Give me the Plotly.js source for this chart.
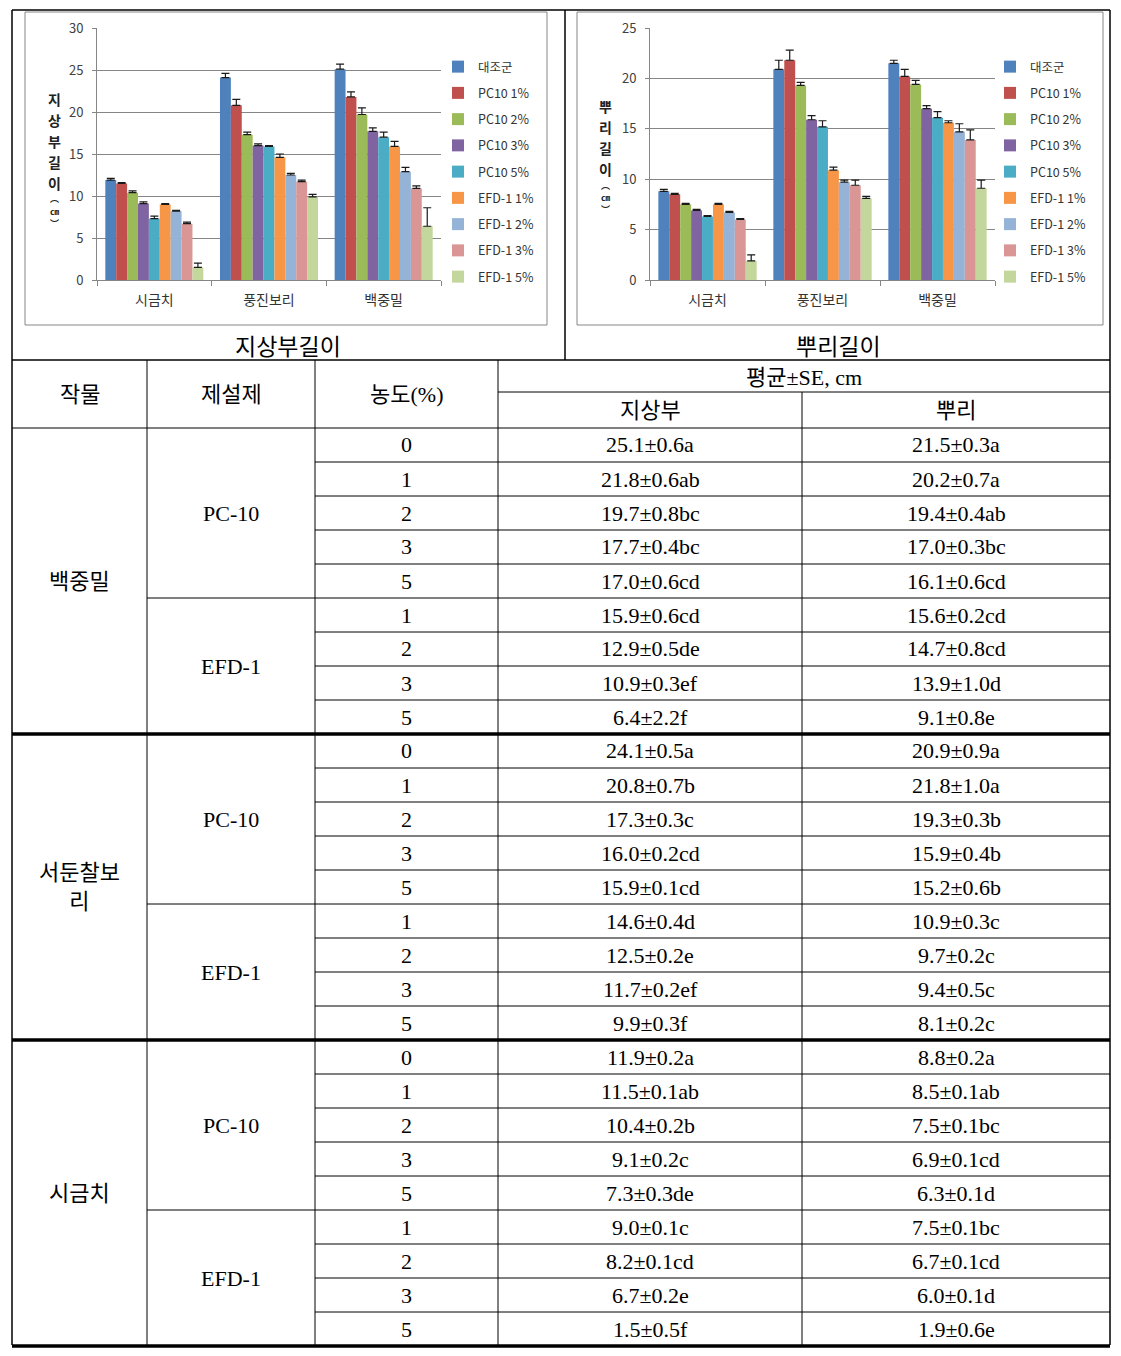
<!DOCTYPE html>
<html>
<head>
<meta charset="utf-8">
<script src="https://cdn.plot.ly/plotly-3.0.1.min.js"></script>
<style>html,body{margin:0;padding:0;background:#fff;}</style>
</head>
<body>
<div id="chart" style="width:1121px;height:1356px;"></div>
<script>
// ---------- DATA ----------
const seriesNames = ['대조군','PC10 1%','PC10 2%','PC10 3%','PC10 5%','EFD-1 1%','EFD-1 2%','EFD-1 3%','EFD-1 5%'];
const chartCategories = ['시금치','풍진보리','백중밀'];
const chartTitles = ['지상부길이','뿌리길이'];
const yTitles = ['지상부길이','뿌리길이'];

const tableCrops = ['백중밀','서둔찰보리','시금치'];
const tableAgents = ['PC-10','EFD-1'];
const concentrations = ['0','1','2','3','5','1','2','3','5'];
const headerTexts = ['작물','제설제','농도(%)','평균±SE, cm','지상부','뿌리'];

// 백중밀 (wheat)
const wheatShoot    = [25.1,21.8,19.7,17.7,17.0,15.9,12.9,10.9,6.4];
const wheatShootSE  = [0.6,0.6,0.8,0.4,0.6,0.6,0.5,0.3,2.2];
const wheatShootLet = ['a','ab','bc','bc','cd','cd','de','ef','f'];
const wheatRoot     = [21.5,20.2,19.4,17.0,16.1,15.6,14.7,13.9,9.1];
const wheatRootSE   = [0.3,0.7,0.4,0.3,0.6,0.2,0.8,1.0,0.8];
const wheatRootLet  = ['a','a','ab','bc','cd','cd','cd','d','e'];
// 서둔찰보리 / 풍진보리 (barley)
const barleyShoot    = [24.1,20.8,17.3,16.0,15.9,14.6,12.5,11.7,9.9];
const barleyShootSE  = [0.5,0.7,0.3,0.2,0.1,0.4,0.2,0.2,0.3];
const barleyShootLet = ['a','b','c','cd','cd','d','e','ef','f'];
const barleyRoot     = [20.9,21.8,19.3,15.9,15.2,10.9,9.7,9.4,8.1];
const barleyRootSE   = [0.9,1.0,0.3,0.4,0.6,0.3,0.2,0.5,0.2];
const barleyRootLet  = ['a','a','b','b','b','c','c','c','c'];
// 시금치 (spinach)
const spinachShoot    = [11.9,11.5,10.4,9.1,7.3,9.0,8.2,6.7,1.5];
const spinachShootSE  = [0.2,0.1,0.2,0.2,0.3,0.1,0.1,0.2,0.5];
const spinachShootLet = ['a','ab','b','c','de','c','cd','e','f'];
const spinachRoot     = [8.8,8.5,7.5,6.9,6.3,7.5,6.7,6.0,1.9];
const spinachRootSE   = [0.2,0.1,0.1,0.1,0.1,0.1,0.1,0.1,0.6];
const spinachRootLet  = ['a','ab','bc','cd','d','bc','cd','d','e'];

// ---------- STYLE ----------
const colors = ['#4F81BD','#C0504D','#9BBB59','#8064A2','#4BACC6','#F79646','#95B3D7','#D99694','#C3D69B'];
const W = 1121, H = 1356;
const X = p => p / W;
const Y = p => 1 - p / H;
const KR = 'Noto Sans CJK KR, Noto Sans, sans-serif';
const SER = 'Liberation Serif, Noto Sans CJK KR, serif';
const gridC = '#868686';

// chart series per crop (chart order: 시금치, 풍진보리, 백중밀)
const shootByCat = [spinachShoot, barleyShoot, wheatShoot];
const shootSEByCat = [spinachShootSE, barleyShootSE, wheatShootSE];
const rootByCat = [spinachRoot, barleyRoot, wheatRoot];
const rootSEByCat = [spinachRootSE, barleyRootSE, wheatRootSE];

const traces = [];
function addSeries(vals, ses, xa, ya, leg, grpPrefix) {
  seriesNames.forEach((name, k) => {
    traces.push({
      type: 'bar', name: name,
      x: chartCategories,
      y: vals.map(a => a[k]),
      error_y: {type: 'data', symmetric: false, array: ses.map(a => a[k]), arrayminus: ses.map(() => 0),
                color: '#1a1a1a', thickness: 1.2, width: 4},
      marker: {color: colors[k], line: {width: 0}},
      xaxis: xa, yaxis: ya, legend: leg, legendgroup: grpPrefix + k,
      hoverinfo: 'name+y'
    });
  });
}
addSeries(shootByCat, shootSEByCat, 'x', 'y', 'legend', 'a');
addSeries(rootByCat, rootSEByCat, 'x2', 'y2', 'legend2', 'b');

const tickFont = {family: KR, size: 13, color: '#404040'};
function xAxis(d0, d1, anchor) {
  return {domain: [X(d0), X(d1)], anchor: anchor, type: 'category', showline: true, linecolor: gridC, linewidth: 1,
    ticks: 'outside', tickson: 'boundaries', ticklen: 5, tickcolor: gridC, showgrid: false,
    tickfont: {family: KR, size: 14, color: '#333'}, ticklabelstandoff: 7, fixedrange: true};
}
function yAxis(anchor, maxv) {
  return {domain: [Y(280), Y(28)], anchor: anchor, range: [0, maxv], dtick: 5, showline: true, linecolor: gridC,
    gridcolor: gridC, gridwidth: 1, ticks: 'outside', ticklen: 4, tickcolor: gridC, zeroline: false,
    tickfont: tickFont, ticklabelstandoff: 6, fixedrange: true};
}

const shapes = [];
const annotations = [];
function line(x0, y0, x1, y1, w, c) {
  shapes.push({type: 'line', xref: 'paper', yref: 'paper', x0: X(x0), y0: Y(y0), x1: X(x1), y1: Y(y1),
    line: {color: c || '#000', width: w || 1}});
}
function text(t, x, y, size, fam, extra) {
  annotations.push(Object.assign({text: t, xref: 'paper', yref: 'paper', x: X(x), y: Y(y), showarrow: false,
    xanchor: 'center', yanchor: 'middle', font: {family: fam || SER, size: size || 22, color: '#000'}}, extra || {}));
}

// chart boxes
shapes.push({type: 'rect', xref: 'paper', yref: 'paper', x0: X(25), y0: Y(12), x1: X(547), y1: Y(325), line: {color: gridC, width: 1}});
shapes.push({type: 'rect', xref: 'paper', yref: 'paper', x0: X(577), y0: Y(12), x1: X(1103), y1: Y(325), line: {color: gridC, width: 1}});

// y titles (stacked vertical text)
function vTitle(str, x, y0) {
  let y = y0;
  Array.from(str).forEach(ch => { text(ch, x, y, 13, KR, {font: {family: KR, size: 14, color: '#222', weight: 'bold'}}); y += 21; });
  y -= 5;
  ['︵','㎝','︶'].forEach(ch => { text(ch, x, y, 9, KR, {font: {family: KR, size: 9, color: '#222', weight: 'bold'}}); y += 12; });
}
vTitle(yTitles[0], 54, 99);
vTitle(yTitles[1], 605, 106);

// captions
text(chartTitles[0], 288, 345, 23, KR);
text(chartTitles[1], 838, 345, 23, KR);

// outer frame & table lines
line(12, 10, 1110, 10, 1.5);
line(12, 10, 12, 1345, 1.5);
line(1110, 10, 1110, 1345, 1.5);
line(565, 10, 565, 360, 1.5);
line(12, 360, 1110, 360, 1.5);
const colX = [12, 147, 315, 498, 802, 1110];
line(colX[1], 360, colX[1], 1345);
line(colX[2], 360, colX[2], 1345);
line(colX[3], 360, colX[3], 1345);
line(colX[4], 392, colX[4], 1345);
line(colX[3], 392, colX[5], 392);
line(colX[0], 428, colX[5], 428);

// header text
text(headerTexts[0], (colX[0] + colX[1]) / 2, 394, 22);
text(headerTexts[1], (colX[1] + colX[2]) / 2, 394, 22);
text(headerTexts[2], (colX[2] + colX[3]) / 2, 394, 22);
text(headerTexts[3], (colX[3] + colX[5]) / 2, 377, 22);
text(headerTexts[4], (colX[3] + colX[4]) / 2, 410, 22);
text(headerTexts[5], (colX[4] + colX[5]) / 2, 410, 22);

const tableShoot = [[wheatShoot, wheatShootSE, wheatShootLet], [barleyShoot, barleyShootSE, barleyShootLet], [spinachShoot, spinachShootSE, spinachShootLet]];
const tableRoot = [[wheatRoot, wheatRootSE, wheatRootLet], [barleyRoot, barleyRootSE, barleyRootLet], [spinachRoot, spinachRootSE, spinachRootLet]];
const rowH = 34, tableTop = 428;
const nRows = concentrations.length;
const fmt = (m, s, l) => m.toFixed(1) + '±' + s.toFixed(1) + l;

tableCrops.forEach((crop, b) => {
  const top = tableTop + b * nRows * rowH;
  const bottom = top + nRows * rowH;
  const chars = Array.from(crop);
  const cropTxt = chars.length > 4 ? chars.slice(0, 4).join('') + '<br>' + chars.slice(4).join('') : crop;
  text(cropTxt, (colX[0] + colX[1]) / 2, (top + bottom) / 2, 22, SER);
  text(tableAgents[0], (colX[1] + colX[2]) / 2, top + 2.5 * rowH, 22);
  text(tableAgents[1], (colX[1] + colX[2]) / 2, top + 7 * rowH, 22);
  for (let r = 0; r < nRows; r++) {
    const cy = top + (r + 0.5) * rowH;
    text(concentrations[r], (colX[2] + colX[3]) / 2, cy, 22);
    const s = tableShoot[b], rt = tableRoot[b];
    text(fmt(s[0][r], s[1][r], s[2][r]), (colX[3] + colX[4]) / 2, cy, 22);
    text(fmt(rt[0][r], rt[1][r], rt[2][r]), (colX[4] + colX[5]) / 2, cy, 22);
    if (r > 0) {
      line(r === 5 ? colX[1] : colX[2], top + r * rowH, colX[5], top + r * rowH);
    }
  }
  line(colX[0], bottom, colX[5], bottom, 3.5);
});

const legendBase = {xanchor: 'left', yanchor: 'top', bgcolor: 'rgba(0,0,0,0)', borderwidth: 0,
  font: {family: KR, size: 12.5, color: '#333'}, tracegroupgap: 7, traceorder: 'grouped'};

const layout = {
  width: W, height: H, margin: {l: 0, r: 0, t: 0, b: 0}, autosize: false,
  paper_bgcolor: '#fff', plot_bgcolor: '#fff',
  barmode: 'group', bargap: 0.145, bargroupgap: 0,
  showlegend: true,
  legend: Object.assign({x: X(438), y: Y(52)}, legendBase),
  legend2: Object.assign({x: X(990), y: Y(52)}, legendBase),
  xaxis: xAxis(97, 441, 'y'),
  yaxis: yAxis('x', 30),
  xaxis2: xAxis(650, 995, 'y2'),
  yaxis2: yAxis('x2', 25),
  shapes: shapes,
  annotations: annotations
};

Plotly.newPlot('chart', traces, layout, {displayModeBar: false, staticPlot: true});
</script>
</body>
</html>
